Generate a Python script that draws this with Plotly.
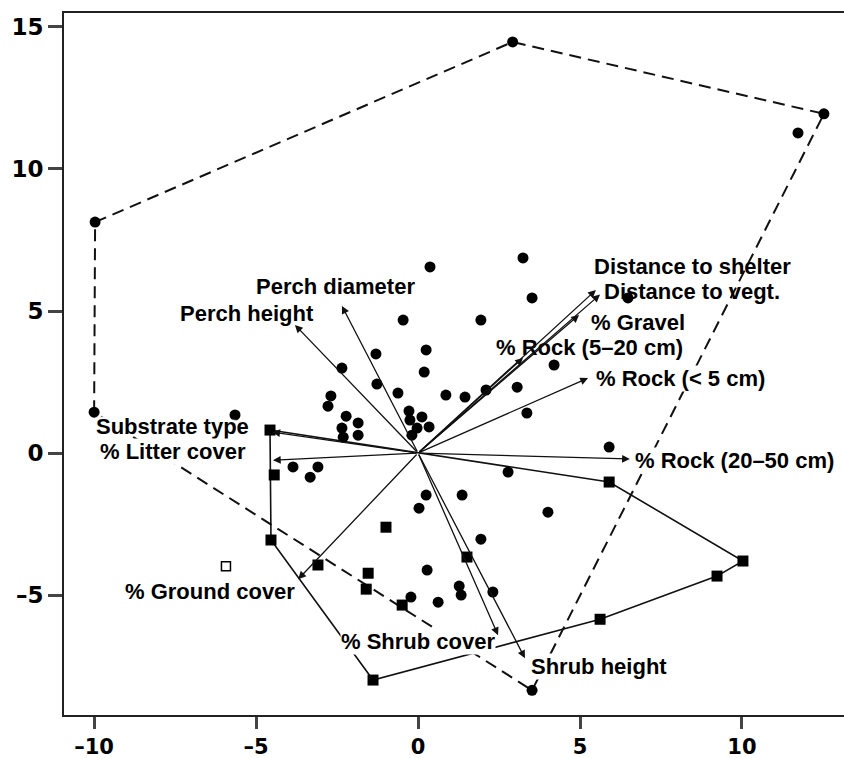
import plotly.graph_objects as go

# ---- data ----
circle_x = [-9.97, 2.92, 12.53, 11.73, 3.52, -10.0, -5.65, 0.37, 3.24, 3.52,
            -0.46, 1.94, 6.48, 0.25, 0.19, 4.20, 3.06, 3.36, 0.86, 1.45,
            2.10, 5.90, 2.78, 0.25, 1.36, 4.01, 1.94, 0.03, 0.28, 1.27,
            1.33, 2.31, 0.62, -0.22, -1.30, -2.35, -1.27, -0.62, -2.69, -2.78,
            -2.22, -1.85, -2.35, -1.85, -2.31, -3.86, -3.09, -3.33, -0.28, -0.25,
            0.12, 0.34, -0.03, -0.19]
circle_y = [8.13, 14.47, 11.94, 11.27, -8.35, 1.44, 1.34, 6.55, 6.87, 5.46,
            4.68, 4.68, 5.46, 3.63, 2.85, 3.10, 2.32, 1.41, 2.04, 1.97,
            2.22, 0.21, -0.67, -1.48, -1.48, -2.08, -3.03, -1.94, -4.12, -4.68,
            -5.00, -4.89, -5.25, -5.07, 3.49, 2.99, 2.43, 2.11, 2.01, 1.65,
            1.30, 1.06, 0.88, 0.63, 0.56, -0.49, -0.49, -0.85, 1.48, 1.16,
            1.27, 0.92, 0.88, 0.63]
circle_hull = [5, 0, 1, 2, 4, 5]

square_x = [-4.57, -4.44, -4.54, -3.09, -1.54, -1.60, -0.49, -1.39, -0.99, 1.51,
            5.90, 10.03, 9.23, 5.62]
square_y = [0.81, -0.77, -3.06, -3.94, -4.23, -4.79, -5.35, -7.99, -2.61, -3.66,
            -1.02, -3.80, -4.33, -5.85]
square_hull = [0, 10, 11, 12, 13, 7, 2, 0]

open_square_x = [-5.93]
open_square_y = [-3.98]

vector_names = ["Perch height", "Perch diameter", "Distance to shelter", "Distance to vegt.",
                "% Gravel", "% Rock (5–20 cm)", "% Rock (< 5 cm)", "% Rock (20–50 cm)",
                "Substrate type", "% Litter cover", "% Ground cover", "% Shrub cover",
                "Shrub height"]
vector_x = [-3.80, -2.35, 5.49, 5.62, 4.97, 3.24, 5.25, 6.54, -4.50, -4.48, -3.70, 2.47, 3.30]
vector_y = [4.51, 5.18, 5.74, 5.58, 4.86, 3.35, 2.64, -0.21, 0.74, -0.25, -4.44, -6.41, -7.22]

x_ticks = [-10, -5, 0, 5, 10]
x_tick_labels = ["–10", "–5", "0", "5", "10"]
y_ticks = [-5, 0, 5, 10, 15]
y_tick_labels = ["–5", "0", "5", "10", "15"]

# ---- label placement (layout): x, y, mask style ----
label_pos = {
    "Distance to shelter": (8.46, 6.55, None),
    "Distance to vegt.": (8.46, 5.67, None),
    "% Gravel": (6.79, 4.58, None),
    "% Rock (5–20 cm)": (5.28, 3.73, None),
    "% Rock (< 5 cm)": (8.09, 2.64, "box"),
    "% Rock (20–50 cm)": (9.78, -0.25, "box"),
    "Shrub height": (5.59, -7.50, "box"),
    "% Shrub cover": (0.0, -6.65, "box"),
    "% Ground cover": (-6.42, -4.89, None),
    "Substrate type": (-7.59, 0.92, "halo"),
    "% Litter cover": (-7.56, 0.04, "box"),
    "Perch diameter": (-2.56, 5.85, None),
    "Perch height": (-5.28, 4.93, None),
}

fig = go.Figure()

# circle group hull (dashed)
fig.add_trace(go.Scatter(
    x=[circle_x[i] for i in circle_hull], y=[circle_y[i] for i in circle_hull],
    mode="lines", line=dict(color="#111", width=2, dash="12px,7px"),
    hoverinfo="skip", showlegend=False))
# square group hull (solid)
fig.add_trace(go.Scatter(
    x=[square_x[i] for i in square_hull], y=[square_y[i] for i in square_hull],
    mode="lines", line=dict(color="#111", width=1.6),
    hoverinfo="skip", showlegend=False))

fig.add_trace(go.Scatter(x=circle_x, y=circle_y, mode="markers",
                         marker=dict(symbol="circle", size=11, color="black"),
                         showlegend=False))
fig.add_trace(go.Scatter(x=square_x, y=square_y, mode="markers",
                         marker=dict(symbol="square", size=11, color="black"),
                         showlegend=False))
fig.add_trace(go.Scatter(x=open_square_x, y=open_square_y, mode="markers",
                         marker=dict(symbol="square-open", size=9, color="black",
                                     line=dict(width=1.5)),
                         showlegend=False))

halo = ", ".join(["0 0 3px white"] * 6 + ["2px 2px 2px white", "-2px -2px 2px white",
                                          "2px -2px 2px white", "-2px 2px 2px white"])
annotations = []
for name in vector_names:
    lx, ly, mask = label_pos[name]
    font = dict(family="Liberation Sans, Arial, sans-serif", size=22, color="black")
    if mask == "halo":
        font["shadow"] = halo
    annotations.append(dict(
        x=lx, y=ly, xref="x", yref="y", text="<b>" + name + "</b>", showarrow=False,
        font=font, bgcolor="white" if mask == "box" else "rgba(0,0,0,0)", borderpad=0,
        xanchor="center", yanchor="middle"))
for name, vx, vy in zip(vector_names, vector_x, vector_y):
    annotations.append(dict(
        x=vx, y=vy, ax=0, ay=0, xref="x", yref="y", axref="x", ayref="y",
        text="", showarrow=True, arrowhead=2, arrowsize=1.2, arrowwidth=1.3,
        arrowcolor="#111", standoff=0, startstandoff=0))

fig.update_layout(
    width=844, height=758,
    margin=dict(l=64, r=0, t=13, b=43, autoexpand=False),
    plot_bgcolor="white", paper_bgcolor="white",
    annotations=annotations,
    showlegend=False,
    xaxis=dict(range=[-10.93, 13.15], tickmode="array", tickvals=x_ticks,
               ticktext=["<b>" + t + "</b>" for t in x_tick_labels],
               showgrid=False, zeroline=False, automargin=False,
               showline=True, linecolor="#222", linewidth=2, mirror=True,
               ticks="outside", ticklen=12, tickwidth=2.5, tickcolor="#444",
               tickfont=dict(family="DejaVu Sans, sans-serif", size=21, color="black")),
    yaxis=dict(range=[-9.22, 15.49], tickmode="array", tickvals=y_ticks,
               ticktext=["<b>" + t + "</b>" for t in y_tick_labels],
               showgrid=False, zeroline=False, automargin=False,
               showline=True, linecolor="#222", linewidth=2, mirror=False,
               ticks="outside", ticklen=14, tickwidth=2.5, tickcolor="#444",
               tickfont=dict(family="DejaVu Sans, sans-serif", size=23, color="black")),
)

fig.write_html("out.html", config={"displayModeBar": False},
               post_script="document.body.style.margin='0px';document.body.style.overflow='hidden';")
